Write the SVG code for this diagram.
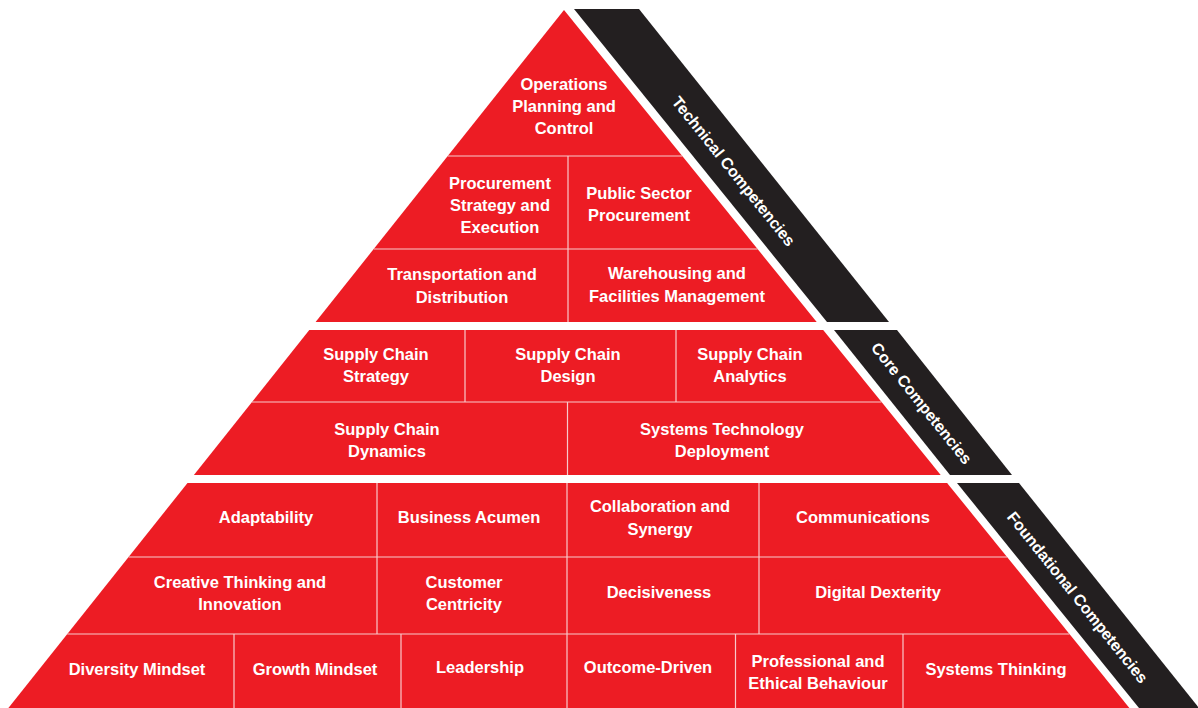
<svg xmlns="http://www.w3.org/2000/svg" width="1198" height="708" viewBox="0 0 1198 708">
  <style>
    .band { fill: #ED1C24; }
    .bar { fill: #231F20; }
    .div { stroke: #F8C9CB; stroke-width: 1.2; fill: none; }
    .lbl { font-family: "Liberation Sans", Arial, sans-serif; font-weight: bold; font-size: 16.5px; fill: #FFFFFF; text-anchor: middle; }
    .side { font-family: "Liberation Sans", Arial, sans-serif; font-weight: bold; font-size: 16px; fill: #FFFFFF; text-anchor: middle; }
  </style>
  <rect width="1198" height="708" fill="#FFFFFF"/>

  <!-- Bands -->
  <g id="band-technical">
    <polygon class="band" points="564,10 816.7,322 315.6,322"/>
    <polygon class="bar" points="574,9 639,9 889,322 827,322"/>
    <text class="side" transform="translate(734,171) rotate(51.3)" dy="6">Technical Competencies</text>
  </g>
  <g id="band-core">
    <polygon class="band" points="309.3,330 823.2,330 940.7,475 193.9,475"/>
    <polygon class="bar" points="834,330 897,330 1012,475 950,475"/>
    <text class="side" transform="translate(922,403) rotate(51.3)" dy="6">Core Competencies</text>
  </g>
  <g id="band-foundational">
    <polygon class="band" points="187.5,483 947.1,483 1129.4,708 8.4,708"/>
    <polygon class="bar" points="957,483 1019,483 1199,708 1139,708"/>
    <text class="side" transform="translate(1078,597) rotate(51.3)" dy="6">Foundational Competencies</text>
  </g>

  <!-- Dividers -->
  <g id="dividers" class="div">
    <line x1="447.8" y1="156" x2="682.3" y2="156"/>
    <line x1="373.8" y1="249" x2="757.6" y2="249"/>
    <line x1="568" y1="156" x2="568" y2="322"/>
    <line x1="252" y1="402" x2="881.5" y2="402"/>
    <line x1="465" y1="330" x2="465" y2="402"/>
    <line x1="676" y1="330" x2="676" y2="402"/>
    <line x1="567.5" y1="402" x2="567.5" y2="475"/>
    <line x1="128.6" y1="557" x2="1007" y2="557"/>
    <line x1="67.3" y1="634" x2="1069.4" y2="634"/>
    <line x1="377" y1="483" x2="377" y2="634"/>
    <line x1="567" y1="483" x2="567" y2="634"/>
    <line x1="759" y1="483" x2="759" y2="634"/>
    <line x1="234" y1="634" x2="234" y2="708"/>
    <line x1="401" y1="634" x2="401" y2="708"/>
    <line x1="567" y1="634" x2="567" y2="708"/>
    <line x1="735.5" y1="634" x2="735.5" y2="708"/>
    <line x1="903" y1="634" x2="903" y2="708"/>
  </g>

  <!-- Technical -->
  <g id="operations-planning"><text class="lbl"><tspan x="564" y="90">Operations</tspan><tspan x="564" y="112">Planning and</tspan><tspan x="564" y="134">Control</tspan></text></g>
  <g id="procurement-strategy"><text class="lbl"><tspan x="500" y="189">Procurement</tspan><tspan x="500" y="211">Strategy and</tspan><tspan x="500" y="233">Execution</tspan></text></g>
  <g id="public-sector"><text class="lbl"><tspan x="639" y="199">Public Sector</tspan><tspan x="639" y="221">Procurement</tspan></text></g>
  <g id="transportation"><text class="lbl"><tspan x="462" y="280">Transportation and</tspan><tspan x="462" y="303">Distribution</tspan></text></g>
  <g id="warehousing"><text class="lbl"><tspan x="677" y="279">Warehousing and</tspan><tspan x="677" y="302">Facilities Management</tspan></text></g>

  <!-- Core -->
  <g id="sc-strategy"><text class="lbl"><tspan x="376" y="360">Supply Chain</tspan><tspan x="376" y="382">Strategy</tspan></text></g>
  <g id="sc-design"><text class="lbl"><tspan x="568" y="360">Supply Chain</tspan><tspan x="568" y="382">Design</tspan></text></g>
  <g id="sc-analytics"><text class="lbl"><tspan x="750" y="360">Supply Chain</tspan><tspan x="750" y="382">Analytics</tspan></text></g>
  <g id="sc-dynamics"><text class="lbl"><tspan x="387" y="435">Supply Chain</tspan><tspan x="387" y="457">Dynamics</tspan></text></g>
  <g id="systems-tech"><text class="lbl"><tspan x="722" y="435">Systems Technology</tspan><tspan x="722" y="457">Deployment</tspan></text></g>

  <!-- Foundational -->
  <g id="adaptability"><text class="lbl" x="266" y="523">Adaptability</text></g>
  <g id="business-acumen"><text class="lbl" x="469" y="523">Business Acumen</text></g>
  <g id="collaboration"><text class="lbl"><tspan x="660" y="512">Collaboration and</tspan><tspan x="660" y="535">Synergy</tspan></text></g>
  <g id="communications"><text class="lbl" x="863" y="523">Communications</text></g>
  <g id="creative-thinking"><text class="lbl"><tspan x="240" y="588">Creative Thinking and</tspan><tspan x="240" y="610">Innovation</tspan></text></g>
  <g id="customer-centricity"><text class="lbl"><tspan x="464" y="588">Customer</tspan><tspan x="464" y="610">Centricity</tspan></text></g>
  <g id="decisiveness"><text class="lbl" x="659" y="598">Decisiveness</text></g>
  <g id="digital-dexterity"><text class="lbl" x="878" y="598">Digital Dexterity</text></g>
  <g id="diversity-mindset"><text class="lbl" x="137" y="675">Diversity Mindset</text></g>
  <g id="growth-mindset"><text class="lbl" x="315" y="675">Growth Mindset</text></g>
  <g id="leadership"><text class="lbl" x="480" y="673">Leadership</text></g>
  <g id="outcome-driven"><text class="lbl" x="648" y="673">Outcome-Driven</text></g>
  <g id="professional-ethical"><text class="lbl"><tspan x="818" y="667">Professional and</tspan><tspan x="818" y="689">Ethical Behaviour</tspan></text></g>
  <g id="systems-thinking"><text class="lbl" x="996" y="675">Systems Thinking</text></g>
</svg>
